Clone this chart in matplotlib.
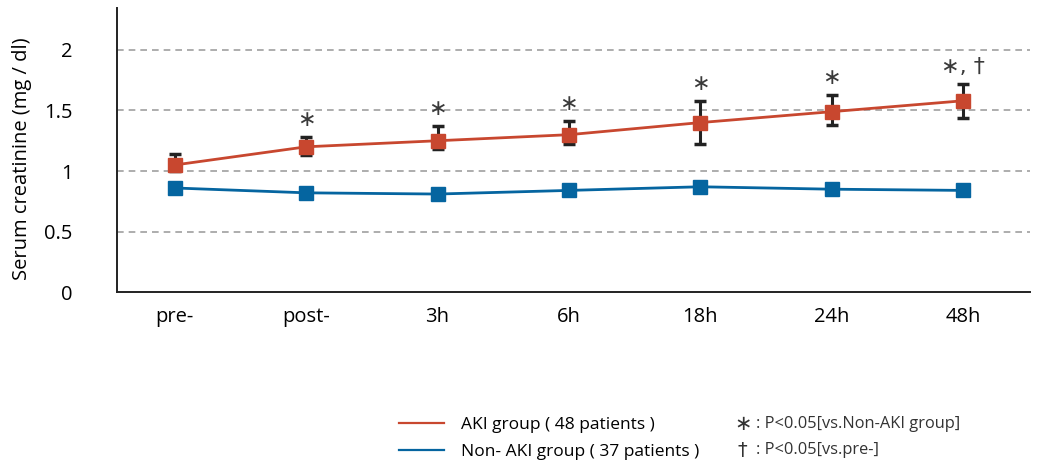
import matplotlib.pyplot as plt
from matplotlib.lines import Line2D
import numpy as np

plt.rcParams['font.family'] = ['Open Sans', 'DejaVu Sans']

# data
times = ['pre-', 'post-', '3h', '6h', '18h', '24h', '48h']
aki_mean = [1.05, 1.20, 1.25, 1.30, 1.40, 1.49, 1.58]
aki_err_low = [1.00, 1.13, 1.18, 1.22, 1.22, 1.38, 1.44]
aki_err_high = [1.14, 1.28, 1.37, 1.41, 1.58, 1.63, 1.72]
non_aki_mean = [0.86, 0.82, 0.81, 0.84, 0.87, 0.85, 0.84]
marks = ['', '∗', '∗', '∗', '∗', '∗', '∗, †']

red = '#C8472F'
blue = '#0565A0'

fig = plt.figure(figsize=(10.49, 4.63), dpi=100)
ax = fig.add_axes([0.1115, 0.369, 0.8705, 0.614])

x = np.arange(len(times))
yerr = [np.array(aki_mean) - np.array(aki_err_low), np.array(aki_err_high) - np.array(aki_mean)]

ax.errorbar(x, aki_mean, yerr=yerr, fmt='none', ecolor='#222222', elinewidth=2.2,
            capsize=4.5, capthick=2.5, zorder=3)
ax.plot(x, aki_mean, color=red, lw=2, marker='s', ms=10, mec=red, mfc=red, zorder=4)
ax.plot(x, non_aki_mean, color=blue, lw=2, marker='s', ms=10, mec=blue, mfc=blue, zorder=4)

for xi, top, m in zip(x, aki_err_high, marks):
    if m:
        ax.annotate(m, (xi, top), xytext=(0, 5), textcoords='offset points',
                    ha='center', va='bottom', fontsize=16, color='#3a3a3a',
                    family=['DejaVu Sans'])

ax.set_xlim(-0.44, 6.51)
ax.set_ylim(0, 2.347)
ax.set_xticks(x)
ax.set_xticklabels(times, fontsize=14.5)
ax.set_yticks([0, 0.5, 1, 1.5, 2])
ax.set_yticklabels(['0', '0.5', '1', '1.5', '2'], fontsize=14.5)
ax.tick_params(axis='both', length=0)
ax.tick_params(axis='y', pad=32)
ax.tick_params(axis='x', pad=11)

for v in [0.5, 1, 1.5, 2]:
    ax.axhline(v, color='#a0a0a0', lw=1.2, ls=(0, (4, 3)), zorder=1)

for s in ['top', 'right']:
    ax.spines[s].set_visible(False)
for s in ['left', 'bottom']:
    ax.spines[s].set_color('#222222')
    ax.spines[s].set_linewidth(1.4)

ax.set_ylabel('Serum creatinine (mg / dl)', fontsize=14.5)
ax.yaxis.set_label_coords(-0.093, 0.47)

handles = [Line2D([], [], color=red, lw=1.6), Line2D([], [], color=blue, lw=1.6)]
fig.legend(handles, ['AKI group ( 48 patients )', 'Non- AKI group ( 37 patients )'],
           loc='center left', bbox_to_anchor=(0.365, 0.053), frameon=False, fontsize=12.5,
           handlelength=2.6, handletextpad=1.0, labelspacing=0.6)

fig.text(0.700, 0.085, '∗', fontsize=15, color='#333333', va='center', family=['DejaVu Sans'])
fig.text(0.721, 0.085, ': P<0.05[vs.Non-AKI group]', fontsize=11.8, color='#333333', va='center')
fig.text(0.703, 0.027, '†', fontsize=14, color='#333333', va='center', family=['DejaVu Sans'])
fig.text(0.721, 0.027, ': P<0.05[vs.pre-]', fontsize=11.8, color='#333333', va='center')

fig.savefig('out.png', dpi=100)
